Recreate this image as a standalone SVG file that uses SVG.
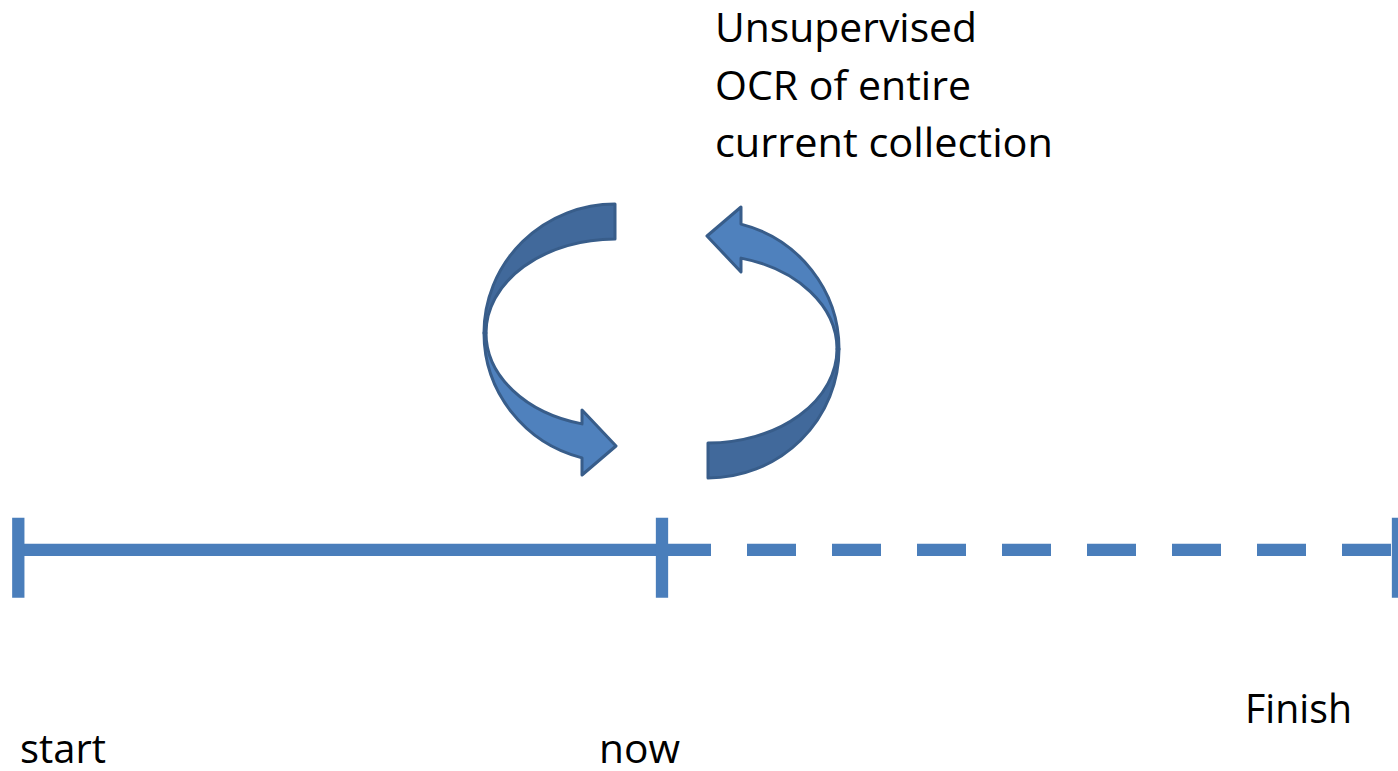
<svg xmlns="http://www.w3.org/2000/svg" width="1398" height="771" viewBox="0 0 1398 771">
  <style>
    .lbl { font-family: "Open Sans", "Liberation Sans", sans-serif; font-size: 40px; fill: #000000; }
    .tl { stroke: #4A7EBB; stroke-width: 12.3; fill: none; }
    .back { fill: #41699B; stroke: #385D8A; stroke-width: 3; stroke-linejoin: round; }
    .front { fill: #4F81BD; stroke: #385D8A; stroke-width: 3; stroke-linejoin: round; }
  </style>
  <defs>
    <g id="curvedArrow">
      <path class="back" d="M615,204 A131,129 0 0 0 484,333 L486,333 A129,94 0 0 1 615,239 Z"/>
      <path class="front" d="M484,333 A131,129 0 0 0 582,457.9 L582,475 L616,446 L582,410 L582,423.9 A129,94 0 0 1 486,333 Z"/>
    </g>
  </defs>

  <g id="connectors">
    <line class="tl" x1="18" y1="549.8" x2="662" y2="549.8"/>
    <line class="tl" x1="662" y1="549.8" x2="1398" y2="549.8" stroke-dasharray="49 36"/>
  </g>

  <g id="tick-start"><line class="tl" x1="18.3" y1="517.7" x2="18.3" y2="597.7"/></g>
  <g id="tick-now"><line class="tl" x1="662" y1="517.7" x2="662" y2="597.7"/></g>
  <g id="tick-finish"><line class="tl" x1="1398" y1="517.7" x2="1398" y2="597.7"/></g>

  <g id="arrow-left"><use href="#curvedArrow"/></g>
  <g id="arrow-right"><use href="#curvedArrow" transform="rotate(180 661.5 341)"/></g>

  <g id="label-ocr">
    <text class="lbl" x="715" y="42" textLength="262" lengthAdjust="spacingAndGlyphs">Unsupervised</text>
    <text class="lbl" x="715" y="100" textLength="256" lengthAdjust="spacingAndGlyphs">OCR of entire</text>
    <text class="lbl" x="715" y="157" textLength="338" lengthAdjust="spacingAndGlyphs">current collection</text>
  </g>
  <g id="label-start"><text class="lbl" x="20" y="763" textLength="86" lengthAdjust="spacingAndGlyphs">start</text></g>
  <g id="label-now"><text class="lbl" x="599" y="763" textLength="81" lengthAdjust="spacingAndGlyphs">now</text></g>
  <g id="label-finish"><text class="lbl" x="1245" y="723" textLength="107" lengthAdjust="spacingAndGlyphs">Finish</text></g>
</svg>
